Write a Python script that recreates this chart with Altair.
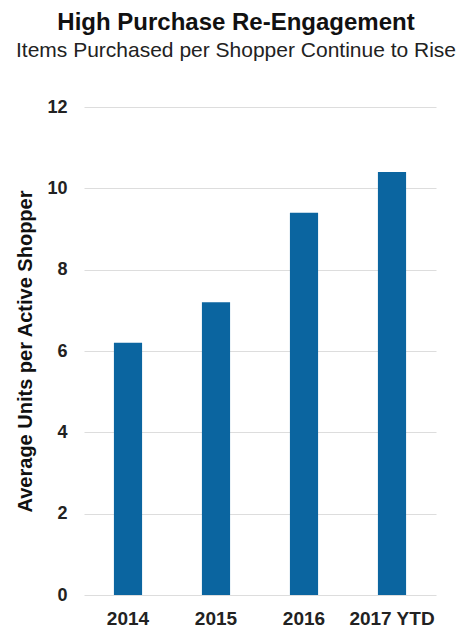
import altair as alt
import pandas as pd

years = ["2014", "2015", "2016", "2017 YTD"]
units = [6.2, 7.2, 9.4, 10.4]

df = pd.DataFrame({"year": years, "units": units})

FONT = "Liberation Sans"

chart = alt.Chart(df).mark_bar(color="#0B65A0").encode(
    x=alt.X("year:N", sort=years, title=None,
            scale=alt.Scale(paddingInner=0.68, paddingOuter=0.34),
            axis=alt.Axis(labelAngle=0, labelFont=FONT, labelFontSize=19,
                          labelFontWeight="bold", labelColor="#222222",
                          labelPadding=14, ticks=False, domain=False, grid=False)),
    y=alt.Y("units:Q", title="Average Units per Active Shopper",
            scale=alt.Scale(domain=[0, 12]),
            axis=alt.Axis(values=[0, 2, 4, 6, 8, 10, 12], labelFont=FONT,
                          labelFontSize=18, labelFontWeight="bold",
                          labelColor="#222222", labelPadding=17,
                          ticks=False, domain=False, gridColor="#DDDDDD",
                          titleFont=FONT, titleFontSize=20, titleFontWeight="bold",
                          titleColor="#111111", titlePadding=11)),
).properties(
    width=352,
    height=488,
    autosize=alt.AutoSizeParams(type="none"),
    padding={"left": 76, "top": 99, "right": 20, "bottom": 40},
    title=alt.TitleParams(
        text="High Purchase Re-Engagement",
        subtitle="Items Purchased per Shopper Continue to Rise",
        font=FONT, fontSize=24, fontWeight="bold", color="#111111",
        subtitleFont=FONT, subtitleFontSize=21, subtitleColor="#222222",
        subtitlePadding=5, anchor="middle", frame="group", dx=-24, offset=37,
    ),
).configure_view(stroke=None)

chart.save("out.html", embed_options={"renderer": "svg", "actions": False})
